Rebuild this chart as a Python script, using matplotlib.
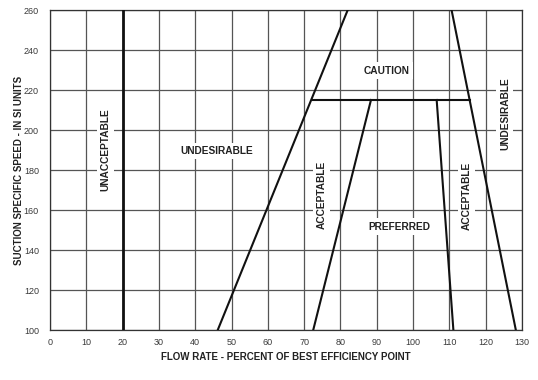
import matplotlib
matplotlib.use("Agg")
import matplotlib.pyplot as plt

plt.rcParams['font.family'] = ['Liberation Sans', 'DejaVu Sans']

# Axis ticks
x_ticks = [0, 10, 20, 30, 40, 50, 60, 70, 80, 90, 100, 110, 120, 130]
y_ticks = [100, 120, 140, 160, 180, 200, 220, 240, 260]

# Boundary lines (flow %, suction specific speed)
unacceptable_x = [20, 20]
unacceptable_y = [100, 260]
left_outer_x = [46.2, 82]
left_outer_y = [100, 260]
right_outer_x = [128.3, 110.6]
right_outer_y = [100, 260]
caution_x = [72.2, 115.6]
caution_y = [215, 215]
left_inner_x = [72.5, 88.4]
left_inner_y = [100, 215]
right_inner_x = [111.1, 106.5]
right_inner_y = [100, 215]

# Region labels: (text, x, y, rotation)
region_labels = [
    ("UNACCEPTABLE", 15.2, 190, 90),
    ("UNDESIRABLE", 45.9, 189.5, 0),
    ("CAUTION", 92.7, 229.7, 0),
    ("UNDESIRABLE", 125.3, 208, 90),
    ("ACCEPTABLE", 74.8, 167.5, 90),
    ("PREFERRED", 96.1, 151.7, 0),
    ("ACCEPTABLE", 114.8, 167, 90),
]

fig = plt.figure(figsize=(5.38, 3.80), dpi=100)
ax = fig.add_axes([50/538, 1-330/380, (522-50)/538, (330-10)/380])

ax.set_xlim(0, 130)
ax.set_ylim(100, 260)
ax.set_xticks(x_ticks)
ax.set_yticks(y_ticks)
ax.grid(True, color='#555555', linewidth=0.9, zorder=1)
ax.tick_params(length=0, labelsize=6.5, labelcolor='#3a3a3a')
ax.tick_params(axis='x', pad=6)
ax.tick_params(axis='y', pad=8)
for s in ax.spines.values():
    s.set_color('#333333')
    s.set_linewidth(0.9)

lc = '#111111'
ax.plot(unacceptable_x, unacceptable_y, color=lc, lw=2.0, zorder=3)
ax.plot(left_outer_x, left_outer_y, color=lc, lw=1.5, zorder=3)
ax.plot(right_outer_x, right_outer_y, color=lc, lw=1.5, zorder=3)
ax.plot(caution_x, caution_y, color=lc, lw=1.5, zorder=3)
ax.plot(left_inner_x, left_inner_y, color=lc, lw=1.5, zorder=3)
ax.plot(right_inner_x, right_inner_y, color=lc, lw=1.5, zorder=3)

for txt, x, y, rot in region_labels:
    ax.text(x, y, txt, rotation=rot, ha='center', va='center', fontsize=7.3,
            fontweight='bold', color='#222222', zorder=4,
            bbox=dict(facecolor='white', edgecolor='none', pad=2.5))

ax.set_xlabel("FLOW RATE - PERCENT OF BEST EFFICIENCY POINT", fontsize=7,
              fontweight='bold', color='#222222', labelpad=3)
ax.set_ylabel("SUCTION SPECIFIC SPEED - IN SI UNITS", fontsize=7,
              fontweight='bold', color='#222222', labelpad=0)

fig.savefig("out.png", dpi=100)
